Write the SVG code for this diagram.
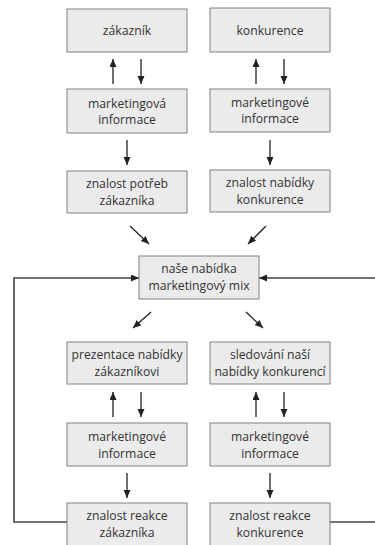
<svg xmlns="http://www.w3.org/2000/svg" width="375" height="545" viewBox="0 0 375 545">
<defs>
<style>
.box{fill:#ebebeb;stroke:#808080;stroke-width:1}
.t{font-family:"Open Sans","Noto Sans","Liberation Sans",sans-serif;font-size:12.2px;fill:#333;text-anchor:middle}
.c{fill:none;stroke:#222;stroke-width:1.3}
.fb{fill:none;stroke:#444;stroke-width:1.6}
</style>
<marker id="ah" markerUnits="userSpaceOnUse" markerWidth="10" markerHeight="8" refX="8" refY="3.5" orient="auto">
<path d="M0,0 L8,3.5 L0,7 z" fill="#222"/>
</marker>
</defs>
<rect width="375" height="545" fill="#fff"/>
<g id="connectors">
<line class="c" x1="113" y1="84" x2="113" y2="59" marker-end="url(#ah)"/>
<line class="c" x1="141" y1="59" x2="141" y2="84" marker-end="url(#ah)"/>
<line class="c" x1="256" y1="84" x2="256" y2="59" marker-end="url(#ah)"/>
<line class="c" x1="284" y1="59" x2="284" y2="84" marker-end="url(#ah)"/>
<line class="c" x1="127" y1="140" x2="127" y2="165" marker-end="url(#ah)"/>
<line class="c" x1="270" y1="140" x2="270" y2="165" marker-end="url(#ah)"/>
<line class="c" x1="130" y1="226" x2="149" y2="244" marker-end="url(#ah)"/>
<line class="c" x1="266" y1="226" x2="248" y2="244" marker-end="url(#ah)"/>
<line class="c" x1="151" y1="312" x2="133" y2="328" marker-end="url(#ah)"/>
<line class="c" x1="246" y1="312" x2="263" y2="328" marker-end="url(#ah)"/>
<line class="c" x1="113" y1="417" x2="113" y2="392" marker-end="url(#ah)"/>
<line class="c" x1="141" y1="392" x2="141" y2="417" marker-end="url(#ah)"/>
<line class="c" x1="256" y1="417" x2="256" y2="392" marker-end="url(#ah)"/>
<line class="c" x1="284" y1="392" x2="284" y2="417" marker-end="url(#ah)"/>
<line class="c" x1="127" y1="473" x2="127" y2="498" marker-end="url(#ah)"/>
<line class="c" x1="270" y1="473" x2="270" y2="498" marker-end="url(#ah)"/>
<path class="fb" d="M67,522 H14 V278 H139" marker-end="url(#ah)"/>
<path class="fb" d="M330,522 H385 V278 H259" marker-end="url(#ah)"/>
</g>
<g id="zakaznik"><rect class="box" x="67" y="9" width="120" height="43"/><text class="t" x="127" y="35">zákazník</text></g>
<g id="konkurence"><rect class="box" x="210" y="8" width="120" height="44"/><text class="t" x="270" y="35">konkurence</text></g>
<g id="mi1"><rect class="box" x="67" y="89" width="120" height="44"/><text class="t" x="127" y="108">marketingová</text><text class="t" x="127" y="124">informace</text></g>
<g id="mi2"><rect class="box" x="210" y="89" width="120" height="43"/><text class="t" x="270" y="107">marketingové</text><text class="t" x="270" y="123">informace</text></g>
<g id="znalost-potreb"><rect class="box" x="67" y="171" width="120" height="42"/><text class="t" x="127" y="188">znalost potřeb</text><text class="t" x="127" y="205">zákazníka</text></g>
<g id="znalost-nabidky"><rect class="box" x="210" y="170" width="120" height="42"/><text class="t" x="270" y="187">znalost nabídky</text><text class="t" x="270" y="204">konkurence</text></g>
<g id="nase-nabidka"><rect class="box" x="139" y="256" width="120" height="43"/><text class="t" x="199" y="273">naše nabídka</text><text class="t" x="199" y="290">marketingový mix</text></g>
<g id="prezentace"><rect class="box" x="67" y="342" width="120" height="42"/><text class="t" x="127" y="359">prezentace nabídky</text><text class="t" x="127" y="376">zákazníkovi</text></g>
<g id="sledovani"><rect class="box" x="210" y="342" width="120" height="42"/><text class="t" x="270" y="359">sledování naší</text><text class="t" x="270" y="376">nabídky konkurencí</text></g>
<g id="mi3"><rect class="box" x="67" y="423" width="120" height="43"/><text class="t" x="127" y="441">marketingové</text><text class="t" x="127" y="458">informace</text></g>
<g id="mi4"><rect class="box" x="210" y="423" width="120" height="43"/><text class="t" x="270" y="441">marketingové</text><text class="t" x="270" y="458">informace</text></g>
<g id="reakce-zakaznika"><rect class="box" x="67" y="503" width="120" height="46"/><text class="t" x="127" y="520">znalost reakce</text><text class="t" x="127" y="537">zákazníka</text></g>
<g id="reakce-konkurence"><rect class="box" x="210" y="503" width="120" height="46"/><text class="t" x="270" y="520">znalost reakce</text><text class="t" x="270" y="537">konkurence</text></g>
</svg>
